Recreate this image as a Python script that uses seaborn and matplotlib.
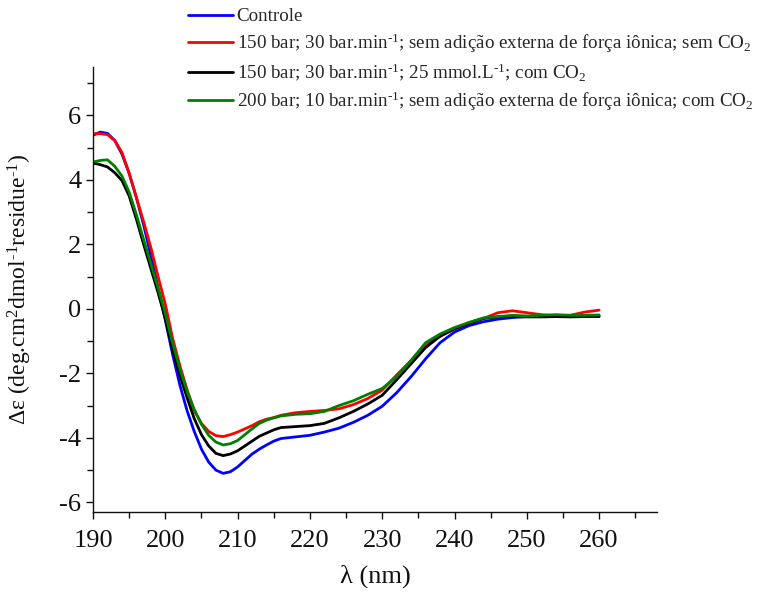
import numpy as np
import pandas as pd
import seaborn as sns
import matplotlib.pyplot as plt
from matplotlib.ticker import MultipleLocator

# wavelength grid (nm) shared by all spectra
wavelength = [190, 191, 192, 193, 194, 195, 196, 197, 198, 199, 200, 201, 202, 203, 204,
              205, 206, 207, 208, 209, 210, 211, 212, 213, 214, 215, 216, 218, 220, 222, 224, 226, 228,
              230, 232, 234, 236, 238, 240, 242, 244, 246, 248, 250, 252, 254, 256, 258, 260]

controle = [5.38, 5.48, 5.44, 5.22, 4.8, 4.2, 3.45, 2.6, 1.65, 0.65, -0.35, -1.4, -2.35, -3.15, -3.8,
            -4.35, -4.75, -5.0, -5.1, -5.05, -4.9, -4.7, -4.5, -4.35, -4.22, -4.1, -4.02, -3.97, -3.92, -3.82, -3.7, -3.52, -3.3,
            -3.02, -2.6, -2.1, -1.55, -1.05, -0.72, -0.52, -0.4, -0.32, -0.27, -0.24, -0.23, -0.22, -0.22, -0.22, -0.22]

s150_sem = [5.43, 5.43, 5.4, 5.22, 4.85, 4.2, 3.45, 2.7, 1.9, 1.0, 0.15, -0.9, -1.75, -2.5, -3.15,
            -3.55, -3.8, -3.93, -3.96, -3.9, -3.82, -3.72, -3.62, -3.5, -3.42, -3.37, -3.3, -3.22, -3.18, -3.15, -3.1, -2.97, -2.78,
            -2.52, -2.05, -1.6, -1.1, -0.85, -0.62, -0.45, -0.3, -0.12, -0.06, -0.12, -0.18, -0.22, -0.2, -0.1, -0.04]

s150_25mm = [4.52, 4.47, 4.4, 4.22, 3.98, 3.5, 2.78, 2.0, 1.25, 0.5, -0.3, -1.25, -2.05, -2.75, -3.4,
             -3.9, -4.25, -4.48, -4.55, -4.5, -4.4, -4.25, -4.1, -3.95, -3.85, -3.75, -3.68, -3.65, -3.62, -3.55, -3.38, -3.18, -2.95,
             -2.68, -2.2, -1.7, -1.2, -0.85, -0.62, -0.45, -0.3, -0.25, -0.24, -0.25, -0.25, -0.24, -0.25, -0.24, -0.24]

s200_com = [4.55, 4.6, 4.62, 4.42, 4.12, 3.62, 2.92, 2.15, 1.4, 0.65, -0.15, -1.05, -1.85, -2.55, -3.12,
            -3.58, -3.92, -4.13, -4.22, -4.18, -4.08, -3.9, -3.72, -3.55, -3.45, -3.38, -3.32, -3.27, -3.25, -3.18, -3.0, -2.85, -2.65,
            -2.47, -2.1, -1.6, -1.05, -0.78, -0.58, -0.42, -0.28, -0.24, -0.2, -0.22, -0.2, -0.18, -0.2, -0.2, -0.19]

labels = [
    "Controle",
    r"150 bar; 30 bar.min$^{\text{-}1}$; sem adição externa de força iônica; sem CO$_2$",
    r"150 bar; 30 bar.min$^{\text{-}1}$; 25 mmol.L$^{\text{-}1}$; com CO$_2$",
    r"200 bar; 10 bar.min$^{\text{-}1}$; sem adição externa de força iônica; com CO$_2$",
]
colors = ["#0000ff", "#ff0000", "#000000", "#008000"]

frames = []
for lab, vals in zip(labels, [controle, s150_sem, s150_25mm, s200_com]):
    frames.append(pd.DataFrame({"wl": wavelength, "de": vals, "amostra": lab}))
df = pd.concat(frames, ignore_index=True)

sns.set_style("ticks")
plt.rcParams['font.family'] = ['Liberation Serif', 'DejaVu Serif']
plt.rcParams['mathtext.fontset'] = 'custom'
plt.rcParams['mathtext.rm'] = 'Liberation Serif'
plt.rcParams['mathtext.it'] = 'Liberation Serif:italic'
plt.rcParams['axes.unicode_minus'] = False

fig = plt.figure(figsize=(7.58, 5.92), dpi=100)
ax = fig.add_axes([0.1227, 0.135, 0.744, 0.752])

sns.lineplot(data=df, x="wl", y="de", hue="amostra", palette=colors, sort=False,
             linewidth=2.0, ax=ax)

ax.set_xlim(190, 268)
ax.set_ylim(-6.3, 7.5)
ax.xaxis.set_major_locator(MultipleLocator(10))
ax.xaxis.set_minor_locator(MultipleLocator(5))
ax.yaxis.set_major_locator(MultipleLocator(2))
ax.yaxis.set_minor_locator(MultipleLocator(1))
ax.tick_params(which='both', direction='out', width=1.0, length=5, labelsize=19,
               color='#111111', labelcolor='#111111')
ax.tick_params(axis='x', which='major', pad=8)
ax.tick_params(which='minor', length=4)
sns.despine(ax=ax)
for sp in ['left', 'bottom']:
    ax.spines[sp].set_linewidth(1.0)
    ax.spines[sp].set_color('#111111')

ax.set_xlabel("λ (nm)", fontsize=19, labelpad=9, color='#111111')
ax.set_ylabel(r"Δε (deg.cm$^2$dmol$^{\text{-}1}$residue$^{\text{-}1}$)", fontsize=17,
              labelpad=18, color='#111111')

handles, labs = ax.get_legend_handles_labels()
ax.legend(handles, labs, loc='upper left', bbox_to_anchor=(188 / 758, 1 - 8 / 592),
          bbox_transform=fig.transFigure, frameon=False, fontsize=13.7,
          handlelength=2.35, handletextpad=0.2, labelspacing=0.33, borderpad=0.0,
          borderaxespad=0.0)

fig.savefig("out.png", dpi=100)
